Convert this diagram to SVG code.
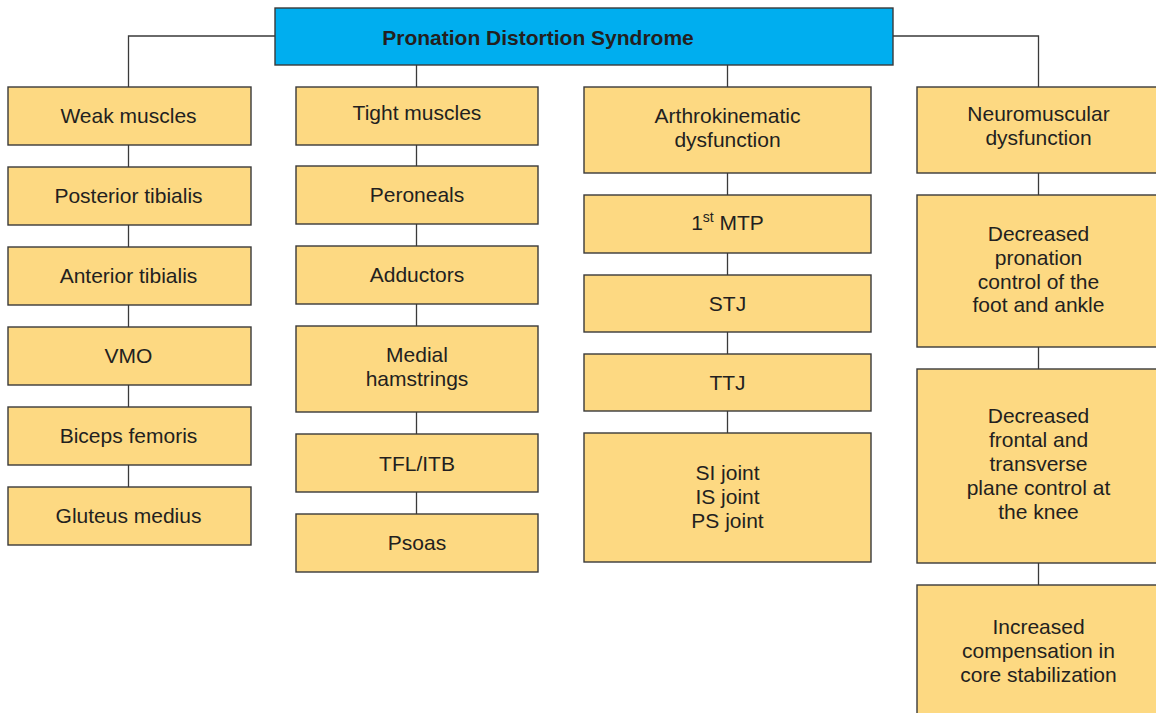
<svg xmlns="http://www.w3.org/2000/svg" width="1156" height="713" viewBox="0 0 1156 713">
<style>
.b{fill:#FDD982;stroke:#3a3a3a;stroke-width:1.4}
.t{fill:#00AEEF;stroke:#3a3a3a;stroke-width:1.4}
text{font-family:"Liberation Sans",Arial,sans-serif;font-size:21px;fill:#231F20;text-anchor:middle}
.bold{font-weight:bold}
#connectors line,#connectors polyline{stroke:#3a3a3a;stroke-width:1.3;fill:none}
</style>
<rect width="1156" height="713" fill="#fff"/>
<g id="connectors">
<polyline points="128.5,87 128.5,36 275,36"/>
<polyline points="893,36 1038.5,36 1038.5,87"/>
<line x1="416.5" y1="65" x2="416.5" y2="87"/>
<line x1="727.5" y1="65" x2="727.5" y2="87"/>
<line x1="128.5" y1="145" x2="128.5" y2="167"/>
<line x1="128.5" y1="225" x2="128.5" y2="247"/>
<line x1="128.5" y1="305" x2="128.5" y2="327"/>
<line x1="128.5" y1="385" x2="128.5" y2="407"/>
<line x1="128.5" y1="465" x2="128.5" y2="487"/>
<line x1="416.5" y1="145" x2="416.5" y2="166"/>
<line x1="416.5" y1="224" x2="416.5" y2="246"/>
<line x1="416.5" y1="304" x2="416.5" y2="326"/>
<line x1="416.5" y1="412" x2="416.5" y2="434"/>
<line x1="416.5" y1="492" x2="416.5" y2="514"/>
<line x1="727.5" y1="173" x2="727.5" y2="195"/>
<line x1="727.5" y1="253" x2="727.5" y2="275"/>
<line x1="727.5" y1="332" x2="727.5" y2="354"/>
<line x1="727.5" y1="411" x2="727.5" y2="433"/>
<line x1="1038.5" y1="173" x2="1038.5" y2="195"/>
<line x1="1038.5" y1="347" x2="1038.5" y2="369"/>
<line x1="1038.5" y1="563" x2="1038.5" y2="585"/>
</g>
<g id="title"><rect class="t" x="275" y="8" width="618" height="57"/><text class="bold" x="538" y="45">Pronation Distortion Syndrome</text></g>

<g id="weak"><rect class="b" x="8" y="87" width="243" height="58"/><text x="128.5" y="123">Weak muscles</text></g>
<g id="posterior-tibialis"><rect class="b" x="8" y="167" width="243" height="58"/><text x="128.5" y="203">Posterior tibialis</text></g>
<g id="anterior-tibialis"><rect class="b" x="8" y="247" width="243" height="58"/><text x="128.5" y="283">Anterior tibialis</text></g>
<g id="vmo"><rect class="b" x="8" y="327" width="243" height="58"/><text x="128.5" y="363">VMO</text></g>
<g id="biceps-femoris"><rect class="b" x="8" y="407" width="243" height="58"/><text x="128.5" y="443">Biceps femoris</text></g>
<g id="gluteus-medius"><rect class="b" x="8" y="487" width="243" height="58"/><text x="128.5" y="523">Gluteus medius</text></g>

<g id="tight"><rect class="b" x="296" y="87" width="242" height="58"/><text x="417" y="120">Tight muscles</text></g>
<g id="peroneals"><rect class="b" x="296" y="166" width="242" height="58"/><text x="417" y="202">Peroneals</text></g>
<g id="adductors"><rect class="b" x="296" y="246" width="242" height="58"/><text x="417" y="282">Adductors</text></g>
<g id="medial-hamstrings"><rect class="b" x="296" y="326" width="242" height="86"/><text x="417" y="362">Medial</text><text x="417" y="386">hamstrings</text></g>
<g id="tfl-itb"><rect class="b" x="296" y="434" width="242" height="58"/><text x="417" y="471">TFL/ITB</text></g>
<g id="psoas"><rect class="b" x="296" y="514" width="242" height="58"/><text x="417" y="550">Psoas</text></g>

<g id="arthrokinematic"><rect class="b" x="584" y="87" width="287" height="86"/><text x="727.5" y="123">Arthrokinematic</text><text x="727.5" y="147">dysfunction</text></g>
<g id="mtp"><rect class="b" x="584" y="195" width="287" height="58"/><text x="727.5" y="230">1<tspan font-size="14" dy="-8">st</tspan><tspan dy="8"> MTP</tspan></text></g>
<g id="stj"><rect class="b" x="584" y="275" width="287" height="57"/><text x="727.5" y="311">STJ</text></g>
<g id="ttj"><rect class="b" x="584" y="354" width="287" height="57"/><text x="727.5" y="390">TTJ</text></g>
<g id="joints"><rect class="b" x="584" y="433" width="287" height="129"/><text x="727.5" y="480">SI joint</text><text x="727.5" y="504">IS joint</text><text x="727.5" y="528">PS joint</text></g>

<g id="neuromuscular"><rect class="b" x="917" y="87" width="250" height="86"/><text x="1038.5" y="121">Neuromuscular</text><text x="1038.5" y="145">dysfunction</text></g>
<g id="pronation-control"><rect class="b" x="917" y="195" width="250" height="152"/><text x="1038.5" y="241">Decreased</text><text x="1038.5" y="265">pronation</text><text x="1038.5" y="289">control of the</text><text x="1038.5" y="312">foot and ankle</text></g>
<g id="knee-control"><rect class="b" x="917" y="369" width="250" height="194"/><text x="1038.5" y="423">Decreased</text><text x="1038.5" y="447">frontal and</text><text x="1038.5" y="471">transverse</text><text x="1038.5" y="495">plane control at</text><text x="1038.5" y="519">the knee</text></g>
<g id="core"><rect class="b" x="917" y="585" width="250" height="140"/><text x="1038.5" y="634">Increased</text><text x="1038.5" y="658">compensation in</text><text x="1038.5" y="682">core stabilization</text></g>
</svg>
